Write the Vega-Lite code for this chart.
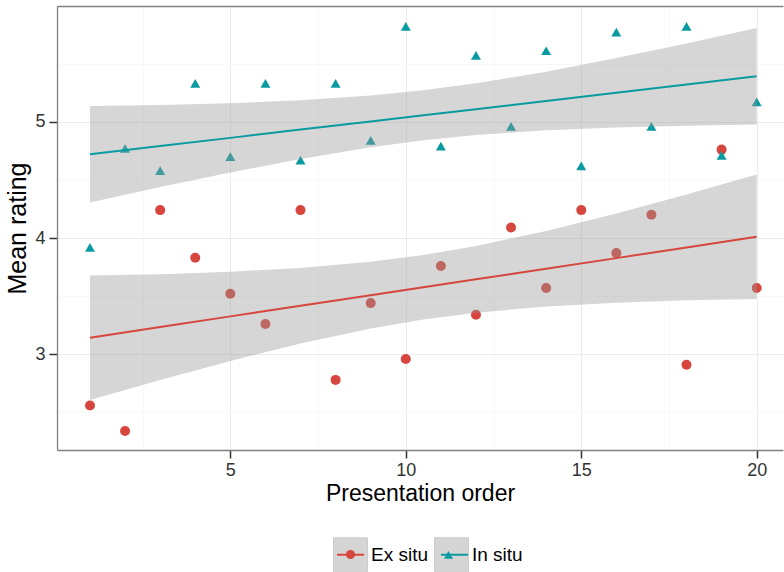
{
  "$schema": "https://vega.github.io/schema/vega-lite/v6.json",
  "width": 726,
  "height": 444,
  "autosize": {"type": "none"},
  "padding": {"left": 57, "top": 6, "right": 1, "bottom": 122},
  "background": "white",
  "config": {
    "view": {"stroke": null},
    "font": "Liberation Sans",
    "axis": {"labelFont": "Liberation Sans", "titleFont": "Liberation Sans", "titleFontWeight": "normal", "titleColor": "#000000", "labelColor": "#333333"}
  },
  "datasets": {
    "pts": [
      {"order": 1, "rating": 2.56, "situ": "Ex situ"},
      {"order": 2, "rating": 2.34, "situ": "Ex situ"},
      {"order": 3, "rating": 4.24, "situ": "Ex situ"},
      {"order": 4, "rating": 3.83, "situ": "Ex situ"},
      {"order": 5, "rating": 3.52, "situ": "Ex situ"},
      {"order": 6, "rating": 3.26, "situ": "Ex situ"},
      {"order": 7, "rating": 4.24, "situ": "Ex situ"},
      {"order": 8, "rating": 2.78, "situ": "Ex situ"},
      {"order": 9, "rating": 3.44, "situ": "Ex situ"},
      {"order": 10, "rating": 2.96, "situ": "Ex situ"},
      {"order": 11, "rating": 3.76, "situ": "Ex situ"},
      {"order": 12, "rating": 3.34, "situ": "Ex situ"},
      {"order": 13, "rating": 4.09, "situ": "Ex situ"},
      {"order": 14, "rating": 3.57, "situ": "Ex situ"},
      {"order": 15, "rating": 4.24, "situ": "Ex situ"},
      {"order": 16, "rating": 3.87, "situ": "Ex situ"},
      {"order": 17, "rating": 4.2, "situ": "Ex situ"},
      {"order": 18, "rating": 2.91, "situ": "Ex situ"},
      {"order": 19, "rating": 4.76, "situ": "Ex situ"},
      {"order": 20, "rating": 3.57, "situ": "Ex situ"},
      {"order": 1, "rating": 3.92, "situ": "In situ"},
      {"order": 2, "rating": 4.77, "situ": "In situ"},
      {"order": 3, "rating": 4.58, "situ": "In situ"},
      {"order": 4, "rating": 5.33, "situ": "In situ"},
      {"order": 5, "rating": 4.7, "situ": "In situ"},
      {"order": 6, "rating": 5.33, "situ": "In situ"},
      {"order": 7, "rating": 4.67, "situ": "In situ"},
      {"order": 8, "rating": 5.33, "situ": "In situ"},
      {"order": 9, "rating": 4.84, "situ": "In situ"},
      {"order": 10, "rating": 5.82, "situ": "In situ"},
      {"order": 11, "rating": 4.79, "situ": "In situ"},
      {"order": 12, "rating": 5.57, "situ": "In situ"},
      {"order": 13, "rating": 4.96, "situ": "In situ"},
      {"order": 14, "rating": 5.61, "situ": "In situ"},
      {"order": 15, "rating": 4.62, "situ": "In situ"},
      {"order": 16, "rating": 5.77, "situ": "In situ"},
      {"order": 17, "rating": 4.96, "situ": "In situ"},
      {"order": 18, "rating": 5.82, "situ": "In situ"},
      {"order": 19, "rating": 4.71, "situ": "In situ"},
      {"order": 20, "rating": 5.17, "situ": "In situ"}
    ],
    "fits": [
      {"order": 1, "fit": 3.143, "lo": 2.608, "hi": 3.678, "situ": "Ex situ"},
      {"order": 3, "fit": 3.234, "lo": 2.779, "hi": 3.689, "situ": "Ex situ"},
      {"order": 5, "fit": 3.326, "lo": 2.943, "hi": 3.71, "situ": "Ex situ"},
      {"order": 7, "fit": 3.417, "lo": 3.092, "hi": 3.742, "situ": "Ex situ"},
      {"order": 9, "fit": 3.508, "lo": 3.221, "hi": 3.795, "situ": "Ex situ"},
      {"order": 10.5, "fit": 3.577, "lo": 3.299, "hi": 3.854, "situ": "Ex situ"},
      {"order": 12, "fit": 3.645, "lo": 3.358, "hi": 3.932, "situ": "Ex situ"},
      {"order": 14, "fit": 3.736, "lo": 3.411, "hi": 4.061, "situ": "Ex situ"},
      {"order": 16, "fit": 3.827, "lo": 3.444, "hi": 4.211, "situ": "Ex situ"},
      {"order": 18, "fit": 3.919, "lo": 3.464, "hi": 4.375, "situ": "Ex situ"},
      {"order": 20, "fit": 4.01, "lo": 3.475, "hi": 4.545, "situ": "Ex situ"},
      {"order": 1, "fit": 4.72, "lo": 4.305, "hi": 5.135, "situ": "In situ"},
      {"order": 3, "fit": 4.791, "lo": 4.438, "hi": 5.144, "situ": "In situ"},
      {"order": 5, "fit": 4.861, "lo": 4.563, "hi": 5.159, "situ": "In situ"},
      {"order": 7, "fit": 4.932, "lo": 4.68, "hi": 5.184, "situ": "In situ"},
      {"order": 9, "fit": 5.002, "lo": 4.78, "hi": 5.225, "situ": "In situ"},
      {"order": 10.5, "fit": 5.055, "lo": 4.84, "hi": 5.27, "situ": "In situ"},
      {"order": 12, "fit": 5.108, "lo": 4.886, "hi": 5.331, "situ": "In situ"},
      {"order": 14, "fit": 5.178, "lo": 4.926, "hi": 5.43, "situ": "In situ"},
      {"order": 16, "fit": 5.249, "lo": 4.951, "hi": 5.547, "situ": "In situ"},
      {"order": 18, "fit": 5.319, "lo": 4.966, "hi": 5.672, "situ": "In situ"},
      {"order": 20, "fit": 5.39, "lo": 4.975, "hi": 5.805, "situ": "In situ"}
    ]
  },
  "resolve": {"axis": {"x": "independent", "y": "independent"}},
  "layer": [
    {
      "data": {"name": "pts"},
      "mark": {"type": "point", "filled": true, "size": 100, "opacity": 1},
      "encoding": {
        "x": {
          "field": "order", "type": "quantitative",
          "scale": {"domain": [0.06, 20.75], "nice": false, "zero": false},
          "axis": {
            "orient": "bottom",
            "values": [2.5, 5, 7.5, 10, 12.5, 15, 17.5, 20],
            "labelExpr": "datum.value % 5 === 0 ? datum.label : ''",
            "format": "d",
            "grid": true,
            "gridColor": {"condition": {"test": "datum.value % 5 === 0", "value": "#ebebeb"}, "value": "#f8f8f8"},
            "gridWidth": 1,
            "tickColor": {"condition": {"test": "datum.value % 5 === 0", "value": "#333333"}, "value": "transparent"},
            "tickSize": 8,
            "tickWidth": 1.5,
            "domain": true,
            "domainColor": "#808080",
            "domainWidth": 1.3,
            "labelFontSize": 18,
            "labelPadding": 3,
            "labelOverlap": false,
            "title": "Presentation order",
            "titleFontSize": 23,
            "titlePadding": 3
          }
        },
        "y": {
          "field": "rating", "type": "quantitative",
          "scale": {"domain": [2.177, 5.995], "nice": false, "zero": false},
          "axis": {
            "orient": "left",
            "values": [3, 4, 5],
            "format": "d",
            "grid": true,
            "gridColor": "#ebebeb",
            "gridWidth": 1,
            "tickColor": "#333333",
            "tickSize": 8,
            "tickWidth": 1.5,
            "domain": true,
            "domainColor": "#808080",
            "domainWidth": 1.3,
            "labelFontSize": 18,
            "labelPadding": 4,
            "labelOverlap": false,
            "title": "Mean rating",
            "titleFontSize": 25,
            "titlePadding": 4
          }
        },
        "color": {
          "field": "situ", "type": "nominal",
          "scale": {"domain": ["Ex situ", "In situ"], "range": ["#D6463E", "#0A9BA0"]},
          "legend": {
            "orient": "none", "direction": "horizontal", "legendX": 289, "legendY": 544,
            "title": null, "padding": 0, "symbolSize": 81, "symbolOffset": 0, "symbolStrokeWidth": 0,
            "labelExpr": "''", "labelOffset": 0, "columnPadding": 89, "labelFontSize": 1,
            "symbolOpacity": 1, "zindex": 3
          }
        },
        "shape": {
          "field": "situ", "type": "nominal",
          "scale": {"domain": ["Ex situ", "In situ"], "range": ["circle", "triangle-up"]},
          "legend": {
            "orient": "none", "direction": "horizontal", "legendX": 289, "legendY": 544,
            "title": null, "padding": 0, "symbolSize": 81, "symbolOffset": 0, "symbolStrokeWidth": 0,
            "labelExpr": "''", "labelOffset": 0, "columnPadding": 89, "labelFontSize": 1,
            "symbolOpacity": 1, "zindex": 3
          }
        }
      }
    },
    {
      "data": {"name": "fits"},
      "mark": {"type": "area", "opacity": 0.4},
      "encoding": {
        "x": {"field": "order", "type": "quantitative",
          "axis": {"orient": "top", "labels": false, "ticks": false, "grid": false, "domain": true, "domainColor": "#808080", "domainWidth": 1.3, "title": null}},
        "y": {"field": "lo", "type": "quantitative",
          "axis": {"orient": "left", "values": [2.5, 3.5, 4.5, 5.5], "labels": false, "ticks": false, "domain": false, "grid": true, "gridColor": "#f8f8f8", "gridWidth": 1, "title": null}},
        "y2": {"field": "hi"},
        "fill": {
          "field": "situ", "type": "nominal",
          "scale": {"range": ["#999999", "#999999"]},
          "legend": {
            "orient": "none", "direction": "horizontal", "legendX": 276, "legendY": 531,
            "title": null, "padding": 0, "symbolSize": 1156, "symbolOffset": 0, "symbolType": "square",
            "labelOffset": 3, "columnPadding": 3, "labelFontSize": 19, "labelFont": "Liberation Sans", "labelColor": "#000000",
            "symbolStrokeColor": "#808080", "symbolStrokeWidth": 1, "symbolOpacity": 0.4,
            "zindex": 1
          }
        }
      }
    },
    {
      "data": {"name": "fits"},
      "mark": {"type": "line", "strokeWidth": 2},
      "encoding": {
        "x": {"field": "order", "type": "quantitative", "axis": null},
        "y": {"field": "fit", "type": "quantitative", "axis": null},
        "stroke": {
          "field": "situ", "type": "nominal",
          "scale": {"domain": {"unionWith": ["Ex situ", "In situ"]}, "range": ["#D6463E", "#0A9BA0"]},
          "legend": {
            "orient": "none", "direction": "horizontal", "legendX": 279, "legendY": 534,
            "title": null, "padding": 0, "symbolSize": 729, "symbolOffset": 0, "symbolType": "stroke", "symbolStrokeWidth": 2,
            "labelExpr": "''", "labelOffset": 0, "columnPadding": 69, "labelFontSize": 1,
            "symbolOpacity": 1, "zindex": 2
          }
        }
      }
    }
  ]
}
